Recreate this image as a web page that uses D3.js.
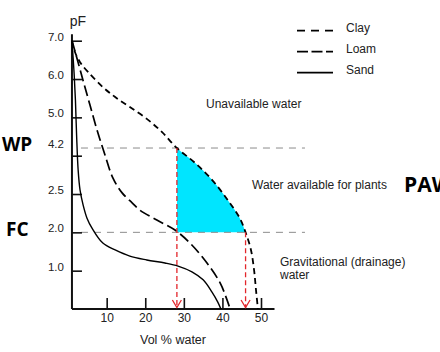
<!DOCTYPE html>
<html>
<head>
<meta charset="utf-8">
<script src="https://cdn.jsdelivr.net/npm/d3@7"></script>
<style>
  body { margin: 0; background: #fff; }
  svg { display: block; font-family: "Liberation Sans", Arial, sans-serif; }
</style>
</head>
<body>
<svg id="chart" width="440" height="352"></svg>
<script>
// axis ticks
const volTicks = [10, 20, 30, 40, 50];
const pfTicks = [7, 6, 5, 4, 3, 2, 1];
const pfLabels = ["7.0", "6.0", "5.0", "4.2", "2.5", "2.0", "1.0"];
const pfLabelAt = [7, 6, 5, 4.2, 3, 2, 1];

// retention curves (vol % water, pF)
const clayVol = [1.0, 1.8, 3.1, 5.2, 9.0, 12.2, 16.0, 20.4, 24.3, 28.2, 32.8, 37.3, 41.4, 44.5, 46.0, 47.4, 48.2, 48.7, 49.2];
const clayPF  = [7.0, 6.7, 6.44, 6.18, 5.79, 5.53, 5.27, 4.96, 4.62, 4.2, 3.82, 3.37, 2.84, 2.37, 2.0, 1.54, 1.02, 0.5, 0];
const loamVol = [1.0, 2.05, 3.86, 5.67, 7.5, 9.56, 11.6, 14.0, 16.6, 18.6, 23.0, 27.7, 31.6, 36.0, 39.4, 41.0, 42.0];
const loamPF  = [7.0, 6.63, 5.97, 5.32, 4.67, 4.02, 3.42, 3.03, 2.77, 2.58, 2.32, 2.06, 1.72, 1.20, 0.68, 0.29, 0];
const sandVol = [1.0, 1.5, 1.9, 2.2, 2.6, 3.1, 3.9, 4.9, 6.2, 9.0, 12.2, 16.0, 20.4, 25.1, 28.5, 32.1, 35.0, 37.3, 38.8, 39.6];
const sandPF  = [7.0, 6.24, 5.45, 4.54, 3.63, 3.10, 2.71, 2.37, 2.11, 1.72, 1.54, 1.38, 1.28, 1.20, 1.12, 0.97, 0.76, 0.44, 0.18, 0];

// wilting point / field capacity, plant available water on clay
const wpPF = 4.2, fcPF = 2.0;
const pawVol = [28.2, 46.0];

const svg = d3.select("#chart");

const x = d3.scaleLinear().domain([0, 50]).range([68.1, 261]);
const y = d3.scaleLinear().domain([0, 7]).range([309, 40.7]);

const pts = (v, p) => v.map((d, i) => ({vol: d, pF: p[i]}));
const clay = pts(clayVol, clayPF), loam = pts(loamVol, loamPF), sand = pts(sandVol, sandPF);

const line = d3.line().x(d => x(d.vol)).y(d => y(d.pF)).curve(d3.curveCatmullRom.alpha(0.5));

// PAW fill
svg.append("clipPath").attr("id", "pawclip")
  .append("rect")
    .attr("x", x(pawVol[0])).attr("y", y(wpPF))
    .attr("width", x(60) - x(pawVol[0])).attr("height", y(fcPF) - y(wpPF));

svg.append("path")
    .datum(clay.filter(d => d.pF >= 1 && d.pF <= 5))
    .attr("clip-path", "url(#pawclip)")
    .attr("fill", "#00e5ff")
    .attr("d", d3.area()
        .y(d => y(d.pF))
        .x0(x(pawVol[0]))
        .x1(d => x(d.vol))
        .curve(d3.curveCatmullRom.alpha(0.5)));

// WP / FC reference lines
svg.append("g")
    .attr("stroke", "#8c8c8c")
    .attr("stroke-width", 1)
    .attr("stroke-dasharray", "7,6")
  .selectAll("line")
  .data([wpPF, fcPF])
  .join("line")
    .attr("x1", x(1) + 9).attr("x2", x(61.4))
    .attr("y1", d => y(d)).attr("y2", d => y(d));

// axes
svg.append("g")
    .attr("transform", `translate(0,${y(0)})`)
    .call(d3.axisBottom(x).tickValues(volTicks).tickSizeInner(-11).tickSizeOuter(0).tickPadding(4))
    .call(g => g.select(".domain").remove())
    .call(g => g.selectAll(".tick line").attr("stroke", "#111").attr("stroke-width", 1.6))
    .call(g => g.selectAll("text").attr("font-size", 12).attr("fill", "#222").attr("font-family", null));

svg.append("g")
    .attr("transform", `translate(${x(1)},0)`)
    .call(d3.axisLeft(y).tickValues(pfTicks).tickFormat("").tickSizeInner(-10).tickSizeOuter(0))
    .call(g => g.select(".domain").remove())
    .call(g => g.selectAll(".tick line").attr("stroke", "#111").attr("stroke-width", 1.6));

svg.append("g")
    .attr("font-size", 11.5)
    .attr("fill", "#222")
    .attr("text-anchor", "end")
  .selectAll("text")
  .data(pfLabels)
  .join("text")
    .attr("x", x(1) - 8)
    .attr("y", (d, i) => y(pfLabelAt[i]) - 4)
    .attr("dy", "0.35em")
    .text(d => d);

svg.append("line")
    .attr("x1", x(1)).attr("x2", x(53.5))
    .attr("y1", y(0)).attr("y2", y(0))
    .attr("stroke", "#111").attr("stroke-width", 2);
svg.append("line")
    .attr("x1", x(1)).attr("x2", x(1))
    .attr("y1", y(0)).attr("y2", y(7.17))
    .attr("stroke", "#111").attr("stroke-width", 2);

svg.append("text")
    .attr("x", x(1) + 6).attr("y", 26)
    .attr("text-anchor", "middle")
    .attr("font-size", 14).attr("fill", "#222")
    .text("pF");

svg.append("text")
    .attr("x", 173).attr("y", 344)
    .attr("text-anchor", "middle")
    .attr("font-size", 12.5).attr("fill", "#222")
    .text("Vol % water");

// curves
const styles = [
  {name: "Clay", data: clay, dash: "6,4", w: 1.8},
  {name: "Loam", data: loam, dash: "11,4.5", w: 1.7},
  {name: "Sand", data: sand, dash: null, w: 1.4}
];

svg.append("g")
    .attr("fill", "none")
    .attr("stroke", "#000")
  .selectAll("path")
  .data(styles)
  .join("path")
    .attr("stroke-width", d => d.w)
    .attr("stroke-dasharray", d => d.dash)
    .attr("d", d => line(d.data));

// red arrows
const arrows = [{vol: pawVol[0], pF: wpPF}, {vol: pawVol[1], pF: fcPF}];
const ag = svg.append("g").attr("stroke", "#e3262b").attr("fill", "none").attr("stroke-width", 1.3);
ag.selectAll("line")
  .data(arrows)
  .join("line")
    .attr("x1", d => x(d.vol)).attr("x2", d => x(d.vol))
    .attr("y1", d => y(d.pF)).attr("y2", y(0) - 1)
    .attr("stroke-dasharray", "5,3");
ag.selectAll("path")
  .data(arrows)
  .join("path")
    .attr("d", d => `M${x(d.vol) - 4.5},${y(0) - 9}L${x(d.vol)},${y(0) - 1.5}L${x(d.vol) + 4.5},${y(0) - 9}`);

// legend
const leg = svg.append("g")
  .selectAll("g")
  .data(styles)
  .join("g")
    .attr("transform", (d, i) => `translate(297,${[30.7, 51.7, 72.7][i]})`);
leg.append("line")
    .attr("x2", 36)
    .attr("stroke", "#000")
    .attr("stroke-width", 1.8)
    .attr("stroke-dasharray", (d, i) => ["8,6", "11,3.5", null][i]);
leg.append("text")
    .attr("x", 49).attr("y", 1)
    .attr("font-size", 12).attr("fill", "#222")
    .text(d => d.name);

// annotations
const notes = svg.append("g").attr("font-size", 12).attr("fill", "#222");
notes.append("text").attr("x", 206).attr("y", 108).text("Unavailable water");
notes.append("text").attr("x", 252).attr("y", 189).text("Water available for plants");
notes.append("text").attr("x", 280).attr("y", 266).text("Gravitational (drainage)");
notes.append("text").attr("x", 280).attr("y", 279).text("water");

const big = svg.append("g")
    .attr("font-family", "'Open Sans', sans-serif")
    .attr("font-weight", 700)
    .attr("fill", "#000");
big.append("text").attr("x", 2).attr("y", 151).attr("font-size", 19).text("WP");
big.append("text").attr("x", 6).attr("y", 236).attr("font-size", 19).text("FC");
big.append("text").attr("x", 404).attr("y", 192).attr("font-size", 21).text("PAW");
</script>
</body>
</html>
